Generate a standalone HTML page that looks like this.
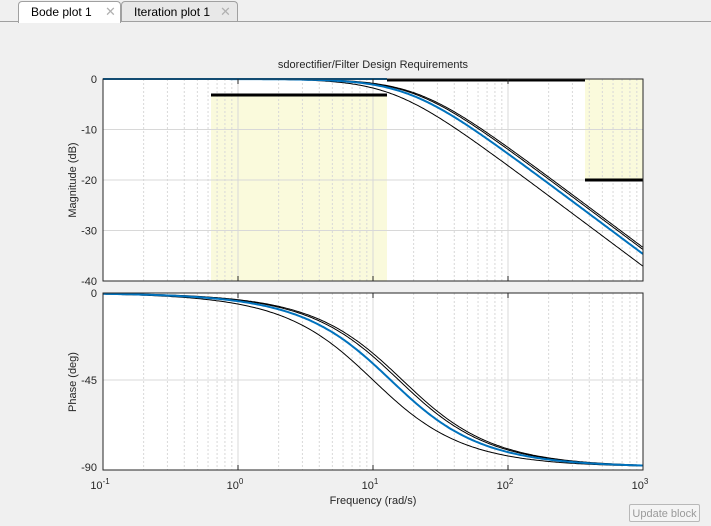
<!DOCTYPE html>
<html><head><style>
body{margin:0;width:711px;height:526px;background:#f0f0f0;font-family:"Liberation Sans",sans-serif;overflow:hidden;position:relative}
.tabbar{position:absolute;left:0;top:0;width:711px;height:21px;border-bottom:1px solid #a0a0a0;background:#f0f0f0}
.tab{position:absolute;top:1px;height:20px;border:1px solid #a0a0a0;border-bottom:none;border-radius:4px 4px 0 0;font-size:12px;line-height:20px;padding-left:12px;box-sizing:border-box}
.x{position:absolute;color:#b0b0b0;font-size:13px;top:0}
.btn{position:absolute;left:629px;top:504px;width:71px;height:18px;border:1px solid #b8b8b8;border-radius:2px;background:#f4f4f4;color:#9a9a9a;font-size:11px;line-height:18px;text-align:center;box-sizing:border-box}
</style></head><body>
<div class="tabbar"></div>
<div class="tab" style="left:18px;width:103px;background:#fff;height:22px">Bode plot 1<span class="x" style="left:86px">✕</span></div>
<div class="tab" style="left:121px;width:117px;background:#e8e8e8">Iteration plot 1<span class="x" style="left:98px">✕</span></div>
<svg id="s" width="711" height="526" style="position:absolute;left:0;top:0" font-family="Liberation Sans, sans-serif"></svg>
<div class="btn">Update block</div>
<script>
const s=document.getElementById('s');let h='';
const L=103,R=643,T1=79,B1=281,T2=293,B2=470;
const X=w=>L+(Math.log10(w)+1)*135;
const YM=d=>T1+(-d)/40*(B1-T1);
const YP=p=>T2+(-p)/90*(B2-T2-3);
h+=`<rect x="${L}" y="${T1}" width="${R-L}" height="${B1-T1}" fill="#fff"/>`;
h+=`<rect x="${L}" y="${T2}" width="${R-L}" height="${B2-T2}" fill="#fff"/>`;
h+=`<rect x="211" y="95" width="176" height="${B1-95}" fill="#fafadc"/>`;
h+=`<rect x="585" y="${T1}" width="${R-585}" height="101" fill="#fafadc"/>`;
for(let d=-1;d<3;d++)for(let k=1;k<10;k++){const x=X(k*Math.pow(10,d));
 const st=k==1?'stroke="#d8d8d8"':'stroke="#d8d8d8" stroke-dasharray="2,2"';
 h+=`<line x1="${x}" y1="${T1}" x2="${x}" y2="${B1}" ${st}/><line x1="${x}" y1="${T2}" x2="${x}" y2="${B2}" ${st}/>`;}
for(const d of[-10,-20,-30])h+=`<line x1="${L}" x2="${R}" y1="${YM(d)}" y2="${YM(d)}" stroke="#d8d8d8"/>`;
h+=`<line x1="${L}" x2="${R}" y1="${YP(-45)}" y2="${YP(-45)}" stroke="#d8d8d8"/>`;
function curve(f,Y,col,w){let p='';for(let i=0;i<=300;i++){const lw=-1+4*i/300,wv=Math.pow(10,lw);p+=(i?'L':'M')+X(wv).toFixed(1)+','+Y(f(wv)).toFixed(1);}
 return `<path d="${p}" fill="none" stroke="${col}" stroke-width="${w}"/>`;}
const mag=wc=>w=>-10*Math.log10(1+(w/wc)**2);
const ph=wc=>w=>-Math.atan(w/wc)*180/Math.PI;
h+=`<svg x="${L}" y="${T1}" width="${R-L}" height="${B1-T1}" overflow="hidden"><g transform="translate(${-L},${-T1})">`;
for(const wc of[21.5,20.5,14])h+=curve(mag(wc),YM,'#000',1);
h+=curve(mag(18.5),YM,'#0072bd',2);
h+=`</g></svg>`;
h+=`<svg x="${L}" y="${T2}" width="${R-L}" height="${B2-T2}" overflow="hidden"><g transform="translate(${-L},${-T2})">`;
for(const wc of[16.5,15.5,10])h+=curve(ph(wc),YP,'#000',1);
h+=curve(ph(13.5),YP,'#0072bd',2);
h+=`</g></svg>`;
h+=`<line x1="211" x2="387" y1="95" y2="95" stroke="#000" stroke-width="3"/>`;
h+=`<line x1="387" x2="585" y1="${T1+1}" y2="${T1+1}" stroke="#000" stroke-width="3"/>`;
h+=`<line x1="585" x2="${R}" y1="180" y2="180" stroke="#000" stroke-width="3"/>`;
h+=`<line x1="${L}" x2="387" y1="${T1}" y2="${T1}" stroke="#0072bd" stroke-width="2"/>`;
h+=`<rect x="${L}" y="${T1}" width="${R-L}" height="${B1-T1}" fill="none" stroke="#262626"/>`;
h+=`<rect x="${L}" y="${T2}" width="${R-L}" height="${B2-T2}" fill="none" stroke="#262626"/>`;
for(let d=-1;d<=3;d++){const x=X(Math.pow(10,d));
 h+=`<line x1="${x}" x2="${x}" y1="${T1}" y2="${T1+5}" stroke="#262626"/><line x1="${x}" x2="${x}" y1="${B1}" y2="${B1-5}" stroke="#262626"/><line x1="${x}" x2="${x}" y1="${T2}" y2="${T2+5}" stroke="#262626"/><line x1="${x}" x2="${x}" y1="${B2}" y2="${B2-5}" stroke="#262626"/>`;
 h+=`<text x="${x-3}" y="489" font-size="11" text-anchor="middle" fill="#262626">10<tspan font-size="8" dy="-5">${d}</tspan></text>`;}
for(const d of[0,-10,-20,-30,-40])h+=`<text x="97" y="${YM(d)+4}" font-size="11" text-anchor="end" fill="#262626">${d}</text>`;
for(const p of[0,-45,-90])h+=`<text x="97" y="${YP(p)+4}" font-size="11" text-anchor="end" fill="#262626">${p}</text>`;
h+=`<text x="373" y="68" font-size="11" text-anchor="middle" fill="#262626">sdorectifier/Filter Design Requirements</text>`;
h+=`<text x="373" y="504" font-size="11" text-anchor="middle" fill="#262626">Frequency  (rad/s)</text>`;
h+=`<text transform="translate(76,180) rotate(-90)" font-size="11" text-anchor="middle" fill="#262626">Magnitude (dB)</text>`;
h+=`<text transform="translate(76,382) rotate(-90)" font-size="11" text-anchor="middle" fill="#262626">Phase (deg)</text>`;
s.innerHTML=h;
</script>
</body></html>
